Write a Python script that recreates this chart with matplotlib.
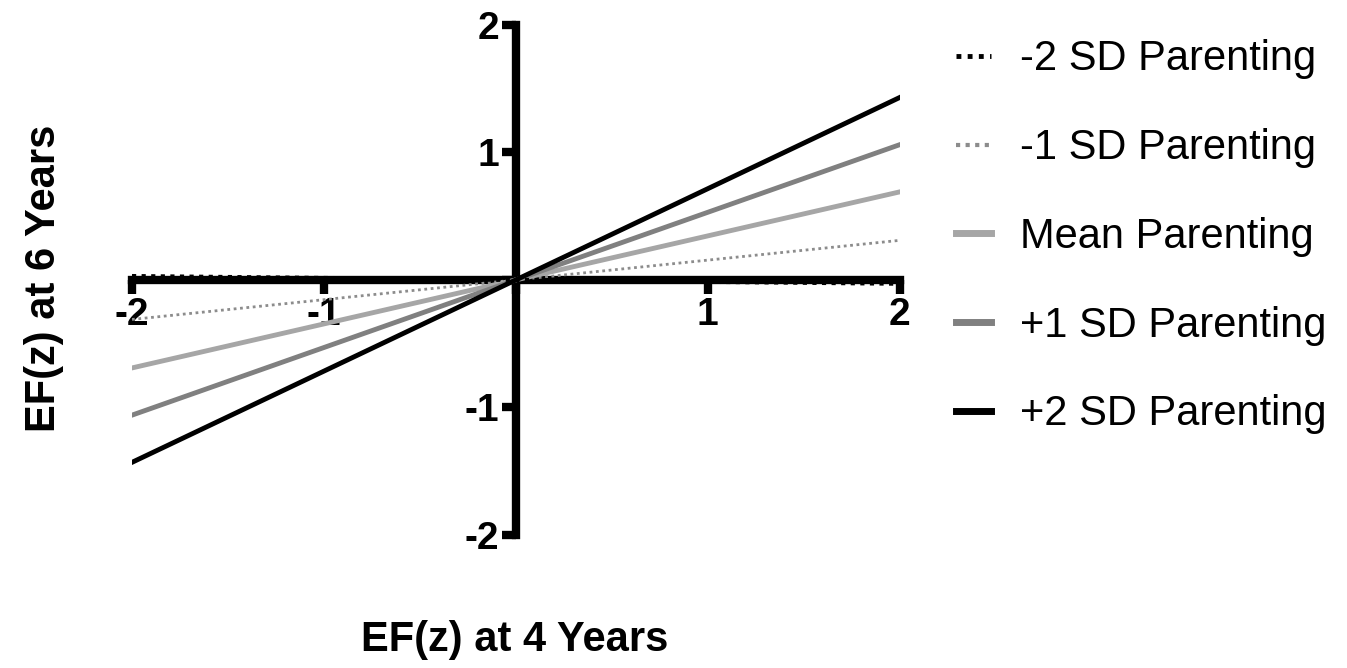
import matplotlib
matplotlib.use('Agg')
import matplotlib.pyplot as plt

plt.rcParams['font.family'] = ['Liberation Sans', 'DejaVu Sans']

# EF at 4 years (x) and predicted EF at 6 years for each parenting level
ef4 = [-2, 2]
neg2_sd = [0.03, -0.03]
neg1_sd = [-0.31, 0.31]
mean_par = [-0.69, 0.69]
pos1_sd = [-1.06, 1.06]
pos2_sd = [-1.43, 1.43]

labels = ['-2 SD Parenting', '-1 SD Parenting', 'Mean Parenting',
          '+1 SD Parenting', '+2 SD Parenting']
tick_vals = [-2, -1, 0, 1, 2]
tick_text = ['-2', '-1', '', '1', '2']

fig = plt.figure(figsize=(13.47, 6.68), dpi=100)
ax = fig.add_axes([0.098, 0.199, 0.57, 0.764])

ax.plot(ef4, neg2_sd, color='black', lw=3, ls=(0, (1, 1.3)), label=labels[0], zorder=4)
ax.plot(ef4, neg1_sd, color='#8c8c8c', lw=2, ls=(0, (1, 1.3)), label=labels[1], zorder=3)
ax.plot(ef4, mean_par, color='#a6a6a6', lw=3.5, label=labels[2], zorder=3)
ax.plot(ef4, pos1_sd, color='#808080', lw=3.5, label=labels[3], zorder=3)
ax.plot(ef4, pos2_sd, color='black', lw=3.5, label=labels[4], zorder=3)

ax.set_xlim(-2, 2)
ax.set_ylim(-2, 2)
for s in ['top', 'right']:
    ax.spines[s].set_visible(False)
for s in ['left', 'bottom']:
    ax.spines[s].set_position(('data', 0))
    ax.spines[s].set_linewidth(6)
    ax.spines[s].set_zorder(2)

ax.set_xticks(tick_vals)
ax.set_xticklabels(tick_text)
ax.set_yticks(tick_vals)
ax.set_yticklabels(tick_text)
ax.tick_params(axis='both', length=10, width=6, labelsize=28, pad=2)
for lab in ax.get_xticklabels() + ax.get_yticklabels():
    lab.set_fontweight('bold')

fig.text(0.033, 0.584, 'EF(z) at 6 Years', rotation=90, ha='center', va='center',
         fontsize=30, fontweight='bold')
fig.text(0.382, 0.042, 'EF(z) at 4 Years', ha='center', va='center',
         fontsize=30, fontweight='bold')

leg = fig.legend(loc='upper left', bbox_to_anchor=(0.697, 0.966), frameon=False,
                 fontsize=30, labelspacing=1.17, handlelength=0.85, handletextpad=0.7,
                 borderaxespad=0)
for h, w in zip(leg.get_lines(), [3.5, 3, 5, 5, 5]):
    h.set_linewidth(w)

fig.savefig('out.png', dpi=100)
